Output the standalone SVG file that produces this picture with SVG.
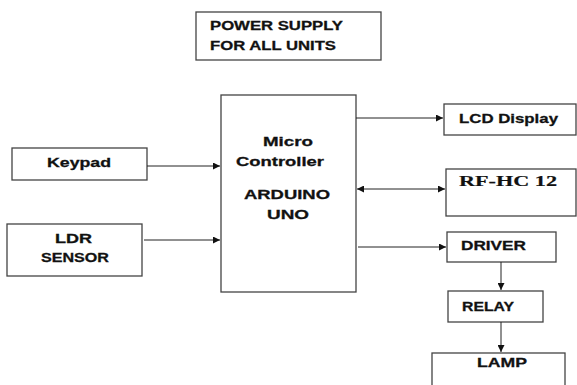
<svg xmlns="http://www.w3.org/2000/svg" width="577" height="385" viewBox="0 0 577 385">
<style>
.box{fill:#fff;stroke:#444;stroke-width:1.3}
.t{font-family:"Liberation Sans",Arial,sans-serif;font-weight:bold;font-size:13.5px;fill:#111;stroke:#111;stroke-width:0.3}
.s{font-family:"Liberation Serif","Times New Roman",serif;font-weight:bold;font-size:15px;fill:#111;stroke:#111;stroke-width:0.2}
.c{stroke:#222;stroke-width:1;fill:none}
</style>
<defs>
<marker id="ah" viewBox="0 0 10 10" refX="10" refY="5" markerWidth="9" markerHeight="7" markerUnits="userSpaceOnUse" orient="auto-start-reverse">
<path d="M0,0 L10,5 L0,10 Z" fill="#111"/>
</marker>
</defs>
<rect width="577" height="385" fill="#fff"/>
<g id="power">
<rect class="box" x="196" y="12" width="185" height="48"/>
<text class="t" x="210" y="30" textLength="133" lengthAdjust="spacingAndGlyphs">POWER SUPPLY</text>
<text class="t" x="210" y="50" textLength="126" lengthAdjust="spacingAndGlyphs">FOR ALL UNITS</text>
</g>
<g id="keypad">
<rect class="box" x="12" y="148" width="135" height="32"/>
<text class="t" x="47" y="167" textLength="64" lengthAdjust="spacingAndGlyphs">Keypad</text>
</g>
<g id="ldr">
<rect class="box" x="7" y="224" width="135" height="52"/>
<text class="t" x="55" y="243" textLength="37" lengthAdjust="spacingAndGlyphs">LDR</text>
<text class="t" x="41" y="262" textLength="68" lengthAdjust="spacingAndGlyphs">SENSOR</text>
</g>
<g id="mc">
<rect class="box" x="221" y="95" width="135" height="197"/>
<text class="t" x="263" y="146" textLength="50" lengthAdjust="spacingAndGlyphs">Micro</text>
<text class="t" x="236" y="166" textLength="88" lengthAdjust="spacingAndGlyphs">Controller</text>
<text class="t" x="244" y="199" textLength="86" lengthAdjust="spacingAndGlyphs">ARDUINO</text>
<text class="t" x="267" y="219" textLength="42" lengthAdjust="spacingAndGlyphs">UNO</text>
</g>
<g id="lcd">
<rect class="box" x="444" y="104" width="132" height="31"/>
<text class="t" x="459" y="123" textLength="99" lengthAdjust="spacingAndGlyphs">LCD Display</text>
</g>
<g id="rf">
<rect class="box" x="446" y="169" width="130" height="47"/>
<text class="s" x="459" y="186" textLength="98" lengthAdjust="spacingAndGlyphs">RF-HC 12</text>
</g>
<g id="driver">
<rect class="box" x="447" y="232" width="109" height="30"/>
<text class="t" x="461" y="250" textLength="65" lengthAdjust="spacingAndGlyphs">DRIVER</text>
</g>
<g id="relay">
<rect class="box" x="448" y="291" width="95" height="31"/>
<text class="t" x="462" y="311" textLength="52" lengthAdjust="spacingAndGlyphs">RELAY</text>
</g>
<g id="lamp">
<rect class="box" x="432" y="353" width="133" height="40"/>
<text class="t" x="477" y="367" textLength="50" lengthAdjust="spacingAndGlyphs">LAMP</text>
</g>
<g id="connectors">
<line class="c" x1="147" y1="166" x2="220" y2="166" marker-end="url(#ah)"/>
<line class="c" x1="144" y1="240" x2="220" y2="240" marker-end="url(#ah)"/>
<line class="c" x1="356" y1="118" x2="443" y2="118" marker-end="url(#ah)"/>
<line class="c" x1="357" y1="189" x2="445" y2="189" marker-start="url(#ah)" marker-end="url(#ah)"/>
<line class="c" x1="358" y1="247" x2="446" y2="247" marker-end="url(#ah)"/>
<line class="c" x1="501" y1="262" x2="501" y2="290" marker-end="url(#ah)"/>
<line class="c" x1="501" y1="322" x2="501" y2="352" marker-end="url(#ah)"/>
</g>
</svg>
